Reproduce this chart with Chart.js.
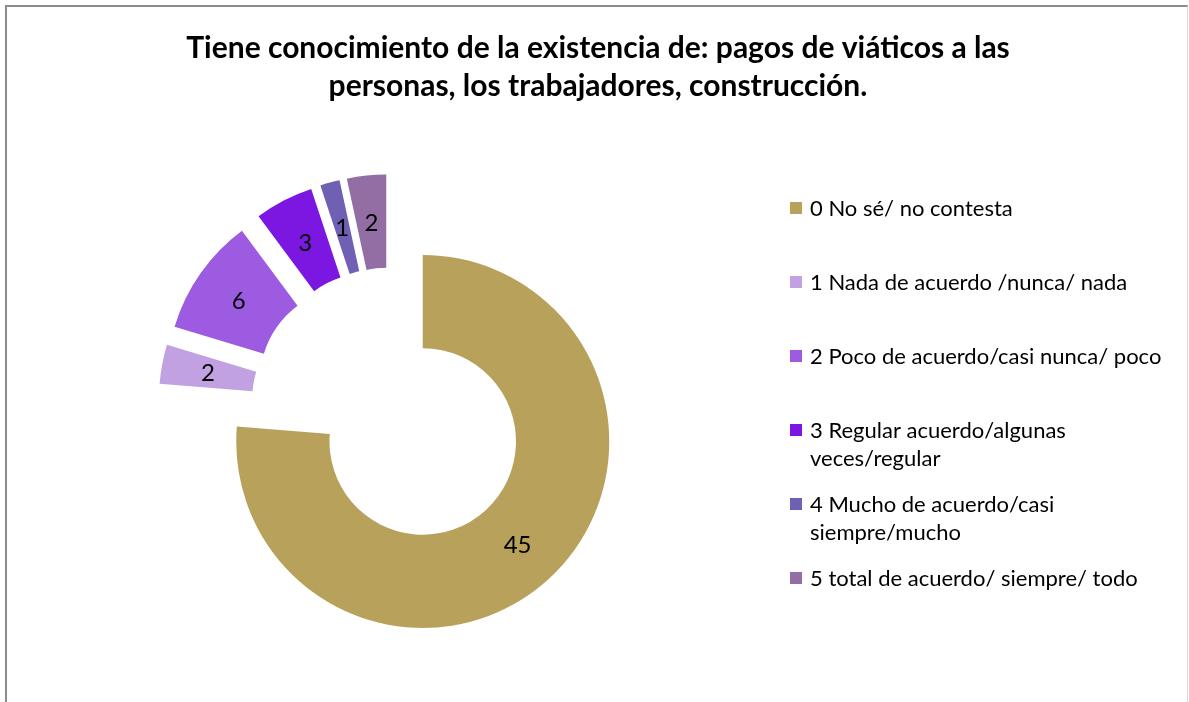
<!DOCTYPE html>
<html>
<head>
<meta charset="utf-8">
<script src="https://cdn.jsdelivr.net/npm/chart.js@4.4.0/dist/chart.umd.min.js"></script>
<style>
  html, body { margin: 0; padding: 0; background: #fff; overflow: hidden; }
  #wrap { position: absolute; left: 0; top: 0; width: 1189px; height: 702px; }
  #frame {
    position: absolute; left: 5px; top: 5px; width: 1180px; height: 720px;
    border-top: 2px solid #8c8c8c; border-left: 2px solid #8c8c8c; border-right: 1px solid #d9d9d9;
    pointer-events: none;
  }
</style>
</head>
<body>
<div id="wrap"><canvas id="chart" width="1189" height="702"></canvas></div>
<div id="frame"></div>
<script>
// Title, categories and answers counted for each one
const titleLines = [
  "Tiene conocimiento de la existencia de: pagos de viáticos a las",
  "personas, los trabajadores, construcción."
];
const categories = [
  "0 No sé/ no contesta",
  "1 Nada de acuerdo /nunca/ nada",
  "2 Poco de acuerdo/casi nunca/ poco",
  ["3 Regular acuerdo/algunas", "veces/regular"],
  ["4 Mucho de acuerdo/casi", "siempre/mucho"],
  "5 total de acuerdo/ siempre/ todo"
];
const counts = [45, 2, 6, 3, 1, 2];
const sliceColors = ["#b7a15b", "#c1a1e2", "#9d5be1", "#7c17e1", "#6f60b3", "#936ea5"];

// Moves every slice out along its middle angle, like an exploded pie
const explode = {
  id: "explode",
  afterDatasetUpdate(chart, args, opts) {
    chart.getDatasetMeta(args.index).data.forEach((arc) => {
      const mid = (arc.startAngle + arc.endAngle) / 2;
      arc.x += Math.cos(mid) * opts.distance;
      arc.y += Math.sin(mid) * opts.distance;
    });
  },
};

// Value written in the middle of each slice
const sliceLabels = {
  id: "sliceLabels",
  afterDatasetsDraw(chart, args, opts) {
    const ctx = chart.ctx;
    const values = chart.data.datasets[0].data;
    ctx.save();
    ctx.font = opts.size + "px Lato";
    ctx.fillStyle = "#000";
    ctx.textAlign = "center";
    ctx.textBaseline = "alphabetic";
    chart.getDatasetMeta(0).data.forEach((arc, i) => {
      const p = arc.tooltipPosition();
      ctx.fillText(String(values[i]), p.x, p.y + opts.size * 0.36);
    });
    ctx.restore();
  },
};

// Two line title, centred over the whole picture
const topTitle = {
  id: "topTitle",
  afterDraw(chart, args, opts) {
    const ctx = chart.ctx;
    ctx.save();
    ctx.font = "bold " + opts.size + "px Lato";
    ctx.fillStyle = "#000";
    ctx.textAlign = "center";
    opts.lines.forEach((line, i) => ctx.fillText(line, opts.x, opts.baseline + i * opts.lineHeight));
    ctx.restore();
  },
};

// Legend on the right, one row every opts.step pixels
const sideLegend = {
  id: "sideLegend",
  afterDraw(chart, args, opts) {
    const ctx = chart.ctx;
    const colors = chart.data.datasets[0].backgroundColor;
    ctx.save();
    ctx.font = opts.size + "px Lato";
    ctx.textAlign = "left";
    chart.data.labels.forEach((label, i) => {
      const top = opts.top + i * opts.step;
      ctx.fillStyle = colors[i];
      ctx.fillRect(opts.x, top, opts.box, opts.box);
      ctx.fillStyle = "#000";
      [].concat(label).forEach((line, j) => {
        ctx.fillText(line, opts.textX, top + opts.baseline + j * opts.lineHeight);
      });
    });
    ctx.restore();
  },
};

new Chart(document.getElementById("chart"), {
  type: "doughnut",
  plugins: [explode, sliceLabels, topTitle, sideLegend],
  data: {
    labels: categories,
    datasets: [
      {
        data: counts,
        backgroundColor: sliceColors,
        borderWidth: 0,
      },
    ],
  },
  options: {
    responsive: false,
    animation: false,
    events: [],
    radius: 186.5,
    cutout: "50%",
    // chart area centred on the pie centre (391, 407)
    layout: { padding: { left: 100, right: 506.6, top: 120, bottom: 7.4 } },
    plugins: {
      legend: { display: false },
      tooltip: { enabled: false },
      title: { display: false },
      explode: { distance: 46.5 },
      sliceLabels: { size: 24 },
      topTitle: { lines: titleLines, size: 30, x: 598, baseline: 58, lineHeight: 38.4 },
      sideLegend: { x: 790, top: 202, step: 74, box: 12, textX: 810, baseline: 14, lineHeight: 28.3, size: 22 },
    },
  },
});
</script>
</body>
</html>
